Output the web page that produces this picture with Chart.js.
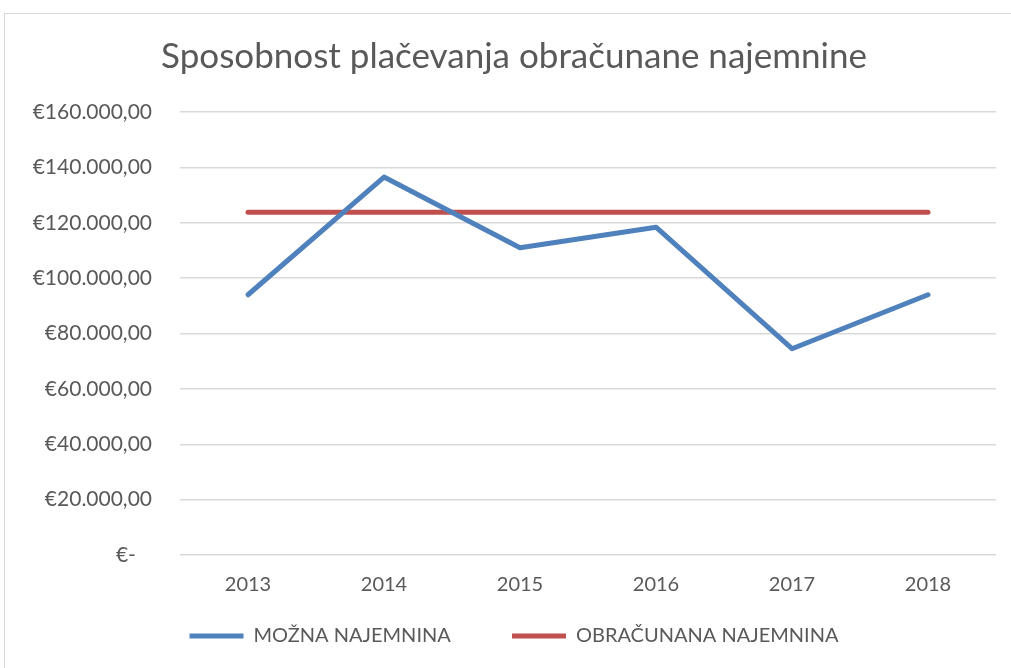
<!DOCTYPE html>
<html>
<head>
<meta charset="utf-8">
<script src="https://cdn.jsdelivr.net/npm/chart.js@4.4.0/dist/chart.umd.min.js"></script>
<style>
    html, body { margin: 0; padding: 0; background: #fff; overflow: hidden; }
    #frame { position: absolute; left: 4px; top: 13px; width: 1030px; height: 680px; border: 1px solid #d9d9d9; box-sizing: border-box; }
    #wrap { position: absolute; left: 0; top: 0; width: 1011px; height: 668px; }
</style>
</head>
<body>
<div id="frame"></div>
<div id="wrap"><canvas id="chart"></canvas></div>
<script>
    // Data
    var years = ['2013', '2014', '2015', '2016', '2017', '2018'];
    var moznaNajemnina = [94000, 136500, 111000, 118400, 74500, 94000];
    var obracunanaNajemnina = [123800, 123800, 123800, 123800, 123800, 123800];
    var yMax = 160000;
    var yStep = 20000;

    var textColor = '#595959';
    var fontFamily = 'Lato, "Open Sans", sans-serif';

    // €160.000,00 style labels, zero shown as €-
    function euro(value) {
        if (value === 0) return '€-   ';
        var s = String(Math.round(value));
        s = s.replace(/\B(?=(\d{3})+(?!\d))/g, '.');
        return '€' + s + ',00';
    }

    var ctx = document.getElementById('chart');
    var myChart = new Chart(ctx, {
        type: 'line',
        data: {
            labels: years,
            datasets: [
                {
                    label: 'MOŽNA NAJEMNINA',
                    data: moznaNajemnina,
                    borderColor: '#4f81bd',
                    backgroundColor: '#4f81bd',
                    borderWidth: 5,
                    borderCapStyle: 'round',
                    borderJoinStyle: 'round',
                    pointRadius: 0,
                    tension: 0
                },
                {
                    label: 'OBRAČUNANA NAJEMNINA',
                    data: obracunanaNajemnina,
                    borderColor: '#c0504d',
                    backgroundColor: '#c0504d',
                    borderWidth: 5,
                    borderCapStyle: 'round',
                    borderJoinStyle: 'round',
                    pointRadius: 0,
                    tension: 0
                }
            ]
        },
        options: {
            responsive: true,
            maintainAspectRatio: false,
            animation: false,
            layout: {
                padding: { left: 32, right: 15, top: 0, bottom: 12 }
            },
            plugins: {
                title: {
                    display: true,
                    text: 'Sposobnost plačevanja obračunane najemnine',
                    color: textColor,
                    font: { family: fontFamily, size: 35, weight: 'normal', lineHeight: 1.2 },
                    padding: { top: 36, bottom: 34 }
                },
                legend: {
                    position: 'bottom',
                    labels: {
                        usePointStyle: true,
                        pointStyle: 'line',
                        pointStyleWidth: 54,
                        boxHeight: 20,
                        padding: 10,
                        color: textColor,
                        font: { family: fontFamily, size: 20 },
                        // wider gap between the two entries, as in the original
                        generateLabels: function(chart) {
                            var items = Chart.defaults.plugins.legend.labels.generateLabels(chart);
                            items[0].text = items[0].text + '          ';
                            return items;
                        }
                    }
                },
                tooltip: { enabled: false }
            },
            scales: {
                x: {
                    offset: true,
                    grid: { display: false, drawTicks: false },
                    border: { display: false },
                    ticks: {
                        color: textColor,
                        padding: 18,
                        font: { family: fontFamily, size: 20 }
                    },
                    afterFit: function(scale) { scale.height = 61; }
                },
                y: {
                    min: 0,
                    max: yMax,
                    grid: { color: '#d9d9d9', lineWidth: 1.5, drawTicks: false },
                    border: { display: false },
                    ticks: {
                        stepSize: yStep,
                        color: textColor,
                        padding: 28,
                        font: { family: fontFamily, size: 21 },
                        callback: function(value) { return euro(value); }
                    },
                    afterFit: function(scale) { scale.width = 148; }
                }
            }
        }
    });
</script>
</body>
</html>
